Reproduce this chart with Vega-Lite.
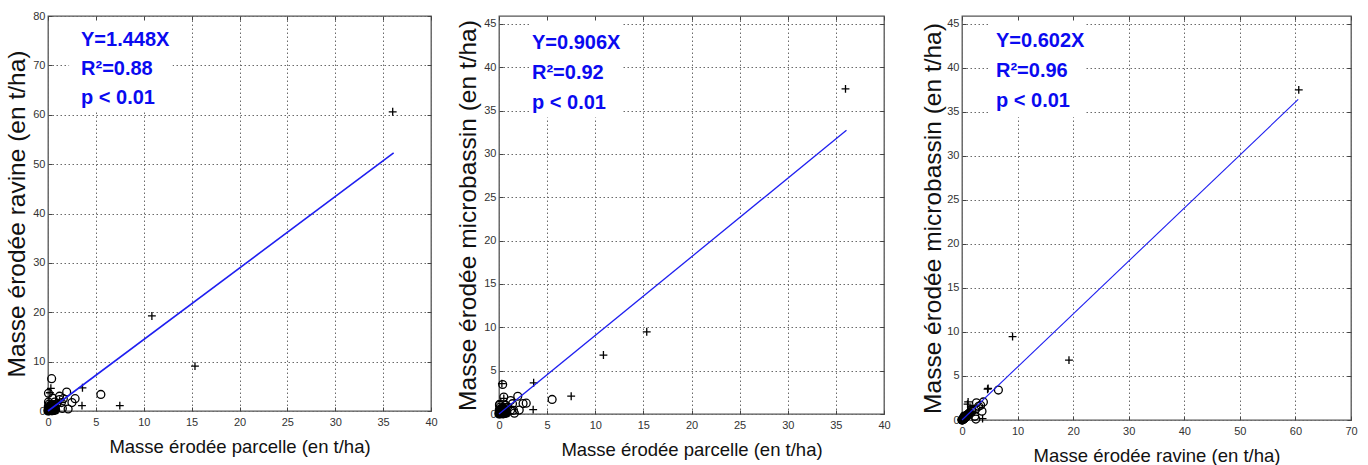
{
  "$schema": "https://vega.github.io/schema/vega-lite/v6.json",
  "padding": {"left": 4, "top": 9, "right": 5, "bottom": 5},
  "background": "white",
  "config": {
    "font": "Liberation Sans",
    "view": {"stroke": "#555", "strokeWidth": 1.3},
    "axis": {
      "domain": false,
      "tickColor": "#444",
      "tickWidth": 1,
      "labelFont": "Liberation Sans",
      "labelFontSize": 11,
      "labelColor": "#333",
      "labelFlush": false,
      "labelOverlap": false,
      "titleFont": "Liberation Sans",
      "titleFontWeight": "normal",
      "titleColor": "#111",
      "gridColor": "#6a6a6a",
      "gridDash": [1.5, 2.5],
      "gridWidth": 1,
      "gridOpacity": 1
    }
  },
  "datasets": {
    "pts": [
      {"P": 36.0, "R": 60.6, "M": 37.5, "s": "+"},
      {"P": 10.85, "R": 19.25, "M": 6.8, "s": "+"},
      {"P": 15.35, "R": 9.1, "M": 9.48, "s": "+"},
      {"P": 7.5, "R": 1.1, "M": 2.05, "s": "+"},
      {"P": 3.6, "R": 4.7, "M": 3.6, "s": "+"},
      {"P": 3.55, "R": 1.1, "M": 0.5, "s": "+"},
      {"P": 0.3, "R": 4.6, "M": 3.5, "s": "+"},
      {"P": 0.2, "R": 3.7, "M": 0.15, "s": "+"},
      {"P": 0.5, "R": 1.0, "M": 1.8, "s": "+"},
      {"P": 0.1, "R": 0.3, "M": 0.2, "s": "+"},
      {"P": 1.0, "R": 1.6, "M": 0.9, "s": "+"},
      {"P": 0.38, "R": 6.55, "M": 3.4, "s": "o"},
      {"P": 5.52, "R": 3.35, "M": 1.68, "s": "o"},
      {"P": 1.95, "R": 3.85, "M": 2.05, "s": "o"},
      {"P": 2.83, "R": 2.5, "M": 1.25, "s": "o"},
      {"P": 1.2, "R": 3.0, "M": 1.55, "s": "o"},
      {"P": 0.5, "R": 2.6, "M": 1.95, "s": "o"},
      {"P": 0.05, "R": 3.6, "M": 1.0, "s": "o"},
      {"P": 2.5, "R": 1.7, "M": 1.2, "s": "o"},
      {"P": 1.4, "R": 1.7, "M": 1.19, "s": "o"},
      {"P": 1.5, "R": 0.5, "M": 0.42, "s": "o"},
      {"P": 2.1, "R": 0.4, "M": 0.45, "s": "o"},
      {"P": 1.2, "R": 2.3, "M": 0.42, "s": "o"},
      {"P": 1.6, "R": 2.5, "M": 0.1, "s": "o"},
      {"P": 0.9, "R": 1.4, "M": 0.8, "s": "o"},
      {"P": 0.7, "R": 1.8, "M": 1.0, "s": "o"},
      {"P": 0.0, "R": 0.0, "M": 0.0, "s": "o"},
      {"P": 0.05, "R": 0.05, "M": 0.03, "s": "o"},
      {"P": 0.1, "R": 0.15, "M": 0.1, "s": "o"},
      {"P": 0.15, "R": 0.3, "M": 0.15, "s": "o"},
      {"P": 0.2, "R": 0.1, "M": 0.08, "s": "o"},
      {"P": 0.25, "R": 0.45, "M": 0.25, "s": "o"},
      {"P": 0.3, "R": 0.2, "M": 0.12, "s": "o"},
      {"P": 0.35, "R": 0.6, "M": 0.35, "s": "o"},
      {"P": 0.4, "R": 0.3, "M": 0.2, "s": "o"},
      {"P": 0.45, "R": 0.8, "M": 0.45, "s": "o"},
      {"P": 0.5, "R": 0.15, "M": 0.1, "s": "o"},
      {"P": 0.55, "R": 0.5, "M": 0.3, "s": "o"},
      {"P": 0.6, "R": 0.9, "M": 0.5, "s": "o"},
      {"P": 0.1, "R": 0.6, "M": 0.35, "s": "o"},
      {"P": 0.2, "R": 0.9, "M": 0.55, "s": "o"},
      {"P": 0.3, "R": 1.2, "M": 0.7, "s": "o"},
      {"P": 0.4, "R": 1.0, "M": 0.6, "s": "o"},
      {"P": 0.05, "R": 0.4, "M": 0.25, "s": "o"},
      {"P": 0.15, "R": 0.75, "M": 0.4, "s": "o"},
      {"P": 0.25, "R": 0.1, "M": 0.05, "s": "o"},
      {"P": 0.35, "R": 0.05, "M": 0.03, "s": "o"},
      {"P": 0.5, "R": 1.1, "M": 0.65, "s": "o"},
      {"P": 0.65, "R": 0.35, "M": 0.2, "s": "o"},
      {"P": 0.75, "R": 0.6, "M": 0.35, "s": "o"},
      {"P": 0.8, "R": 0.2, "M": 0.12, "s": "o"},
      {"P": 0.12, "R": 1.4, "M": 0.8, "s": "o"},
      {"P": 0.05, "R": 1.8, "M": 1.1, "s": "o"},
      {"P": 0.6, "R": 1.3, "M": 0.75, "s": "o"},
      {"P": 0.02, "R": 0.22, "M": 0.12, "s": "o"},
      {"P": 0.08, "R": 0.35, "M": 0.2, "s": "o"},
      {"P": 0.12, "R": 0.05, "M": 0.04, "s": "o"},
      {"P": 0.18, "R": 0.5, "M": 0.28, "s": "o"},
      {"P": 0.22, "R": 0.25, "M": 0.16, "s": "o"},
      {"P": 0.28, "R": 0.65, "M": 0.38, "s": "o"},
      {"P": 0.32, "R": 0.38, "M": 0.22, "s": "o"},
      {"P": 0.38, "R": 0.12, "M": 0.07, "s": "o"},
      {"P": 0.42, "R": 0.55, "M": 0.32, "s": "o"},
      {"P": 0.48, "R": 0.35, "M": 0.2, "s": "o"},
      {"P": 0.55, "R": 0.7, "M": 0.42, "s": "o"},
      {"P": 0.62, "R": 0.1, "M": 0.06, "s": "o"},
      {"P": 0.7, "R": 0.25, "M": 0.15, "s": "o"},
      {"P": 0.03, "R": 0.9, "M": 0.5, "s": "o"},
      {"P": 0.26, "R": 0.85, "M": 0.5, "s": "o"},
      {"P": 0.45, "R": 0.05, "M": 0.02, "s": "o"},
      {"P": 0.06, "R": 0.12, "M": 0.07, "s": "o"},
      {"P": 0.14, "R": 0.2, "M": 0.12, "s": "o"},
      {"P": 0.2, "R": 0.4, "M": 0.22, "s": "o"},
      {"P": 0.27, "R": 0.3, "M": 0.18, "s": "o"},
      {"P": 0.33, "R": 0.15, "M": 0.09, "s": "o"},
      {"P": 0.4, "R": 0.45, "M": 0.26, "s": "o"},
      {"P": 0.47, "R": 0.6, "M": 0.36, "s": "o"},
      {"P": 0.52, "R": 0.25, "M": 0.15, "s": "o"},
      {"P": 0.58, "R": 0.4, "M": 0.24, "s": "o"},
      {"P": 0.1, "R": 0.45, "M": 0.27, "s": "o"},
      {"P": 0.17, "R": 0.6, "M": 0.34, "s": "o"},
      {"P": 0.36, "R": 0.75, "M": 0.44, "s": "o"}
    ],
    "fit1": [{"x": 0, "y": 0}, {"x": 36.1, "y": 52.27}],
    "fit2": [{"x": 0, "y": 0}, {"x": 36.1, "y": 32.71}],
    "fit3": [{"x": 0, "y": 0}, {"x": 60.5, "y": 36.42}],
    "one": [{}]
  },
  "hconcat": [
    {
      "width": 383,
      "height": 395,
      "layer": [
        {
          "data": {"name": "one"},
          "mark": {"type": "rect", "fill": "white"},
          "encoding": {
            "x": {"datum": 2.2, "type": "quantitative", "axis": null},
            "x2": {"datum": 13},
            "y": {"datum": 60.6, "type": "quantitative", "axis": null},
            "y2": {"datum": 79.6}
          }
        },
        {
          "data": {"name": "pts"},
          "mark": {"type": "point", "filled": false, "stroke": "#000", "strokeWidth": 1.3, "size": 62, "opacity": 1},
          "encoding": {
            "x": {"field": "P", "type": "quantitative", "scale": {"domain": [0, 40], "nice": false},
              "axis": {"orient": "bottom", "values": [0, 5, 10, 15, 20, 25, 30, 35, 40], "grid": true, "tickSize": -4, "labelPadding": 9, "title": "Masse érodée parcelle (en t/ha)", "titleFontSize": 18.5, "titlePadding": 10}},
            "y": {"field": "R", "type": "quantitative", "scale": {"domain": [0, 80], "nice": false},
              "axis": {"orient": "left", "values": [0, 10, 20, 30, 40, 50, 60, 70, 80], "grid": true, "tickSize": -4, "labelPadding": 7, "title": "Masse érodée ravine (en t/ha)", "titleFontSize": 24.5, "titlePadding": 3}},
            "shape": {"field": "s", "type": "nominal", "scale": {"domain": ["o", "+"], "range": ["circle", "M-1,0L1,0M0,-1L0,1"]}, "legend": null}
          }
        },
        {
          "data": {"name": "fit1"},
          "mark": {"type": "line", "color": "#1f1ff0", "strokeWidth": 1.6},
          "encoding": {
            "x": {"field": "x", "type": "quantitative", "axis": {"orient": "top", "values": [0, 5, 10, 15, 20, 25, 30, 35, 40], "labels": false, "grid": false, "tickSize": -4, "title": null, "zindex": 1}},
            "y": {"field": "y", "type": "quantitative", "axis": {"orient": "right", "values": [0, 10, 20, 30, 40, 50, 60, 70, 80], "labels": false, "grid": false, "tickSize": -4, "title": null, "zindex": 1}}
          }
        },
        {
          "data": {"name": "one"},
          "mark": {"type": "text", "align": "left", "baseline": "alphabetic", "font": "Liberation Sans", "fontSize": 20, "fontWeight": "bold", "color": "#0a0af0", "lineHeight": 29, "text": ["Y=1.448X", "R²=0.88", "p < 0.01"]},
          "encoding": {
            "x": {"datum": 3.45, "type": "quantitative", "axis": null},
            "y": {"datum": 73.9, "type": "quantitative", "axis": null}
          }
        }
      ],
      "resolve": {"axis": {"x": "independent", "y": "independent"}}
    },
    {
      "hconcat": [
        {
          "width": 385,
          "height": 398,
          "layer": [
            {
              "data": {"name": "one"},
              "mark": {"type": "rect", "fill": "white"},
              "encoding": {
                "x": {"datum": 3.3, "type": "quantitative", "axis": null},
                "x2": {"datum": 12.8},
                "y": {"datum": 34.2, "type": "quantitative", "axis": null},
                "y2": {"datum": 45.6}
              }
            },
            {
              "data": {"name": "pts"},
              "mark": {"type": "point", "filled": false, "stroke": "#000", "strokeWidth": 1.3, "size": 62, "opacity": 1},
              "encoding": {
                "x": {"field": "P", "type": "quantitative", "scale": {"domain": [0, 40], "nice": false},
                  "axis": {"orient": "bottom", "values": [0, 5, 10, 15, 20, 25, 30, 35, 40], "grid": true, "tickSize": -4, "labelPadding": 9, "title": "Masse érodée parcelle (en t/ha)", "titleFontSize": 18.5, "titlePadding": 10}},
                "y": {"field": "M", "type": "quantitative", "scale": {"domain": [0, 45.9], "nice": false},
                  "axis": {"orient": "left", "values": [0, 5, 10, 15, 20, 25, 30, 35, 40, 45], "grid": true, "tickSize": -4, "labelPadding": 7, "title": "Masse érodée microbassin (en t/ha)", "titleFontSize": 24.5, "titlePadding": 3}},
                "shape": {"field": "s", "type": "nominal", "scale": {"domain": ["o", "+"], "range": ["circle", "M-1,0L1,0M0,-1L0,1"]}, "legend": null}
              }
            },
            {
              "data": {"name": "fit2"},
              "mark": {"type": "line", "color": "#1f1ff0", "strokeWidth": 1.3},
              "encoding": {
                "x": {"field": "x", "type": "quantitative", "axis": {"orient": "top", "values": [0, 5, 10, 15, 20, 25, 30, 35, 40], "labels": false, "grid": false, "tickSize": -4, "title": null, "zindex": 1}},
                "y": {"field": "y", "type": "quantitative", "axis": {"orient": "right", "values": [0, 5, 10, 15, 20, 25, 30, 35, 40, 45], "labels": false, "grid": false, "tickSize": -4, "title": null, "zindex": 1}}
              }
            },
            {
              "data": {"name": "one"},
              "mark": {"type": "text", "align": "left", "baseline": "alphabetic", "font": "Liberation Sans", "fontSize": 20, "fontWeight": "bold", "color": "#0a0af0", "lineHeight": 30, "text": ["Y=0.906X", "R²=0.92", "p < 0.01"]},
              "encoding": {
                "x": {"datum": 3.43, "type": "quantitative", "axis": null},
                "y": {"datum": 42.1, "type": "quantitative", "axis": null}
              }
            }
          ],
          "resolve": {"axis": {"x": "independent", "y": "independent"}}
        },
        {
          "width": 389,
          "height": 404,
          "layer": [
            {
              "data": {"name": "one"},
              "mark": {"type": "rect", "fill": "white"},
              "encoding": {
                "x": {"datum": 4.9, "type": "quantitative", "axis": null},
                "x2": {"datum": 22},
                "y": {"datum": 34.4, "type": "quantitative", "axis": null},
                "y2": {"datum": 45.6}
              }
            },
            {
              "data": {"name": "pts"},
              "mark": {"type": "point", "filled": false, "stroke": "#000", "strokeWidth": 1.3, "size": 62, "opacity": 1},
              "encoding": {
                "x": {"field": "R", "type": "quantitative", "scale": {"domain": [0, 70], "nice": false},
                  "axis": {"orient": "bottom", "values": [0, 10, 20, 30, 40, 50, 60, 70], "grid": true, "tickSize": -4, "labelPadding": 9, "title": "Masse érodée ravine (en t/ha)", "titleFontSize": 18.5, "titlePadding": 10}},
                "y": {"field": "M", "type": "quantitative", "scale": {"domain": [0, 45.9], "nice": false},
                  "axis": {"orient": "left", "values": [0, 5, 10, 15, 20, 25, 30, 35, 40, 45], "grid": true, "tickSize": -4, "labelPadding": 7, "title": "Masse érodée microbassin (en t/ha)", "titleFontSize": 24.5, "titlePadding": 1}},
                "shape": {"field": "s", "type": "nominal", "scale": {"domain": ["o", "+"], "range": ["circle", "M-1,0L1,0M0,-1L0,1"]}, "legend": null}
              }
            },
            {
              "data": {"name": "fit3"},
              "mark": {"type": "line", "color": "#1f1ff0", "strokeWidth": 1.1},
              "encoding": {
                "x": {"field": "x", "type": "quantitative", "axis": {"orient": "top", "values": [0, 10, 20, 30, 40, 50, 60, 70], "labels": false, "grid": false, "tickSize": -4, "title": null, "zindex": 1}},
                "y": {"field": "y", "type": "quantitative", "axis": {"orient": "right", "values": [0, 5, 10, 15, 20, 25, 30, 35, 40, 45], "labels": false, "grid": false, "tickSize": -4, "title": null, "zindex": 1}}
              }
            },
            {
              "data": {"name": "one"},
              "mark": {"type": "text", "align": "left", "baseline": "alphabetic", "font": "Liberation Sans", "fontSize": 20, "fontWeight": "bold", "color": "#0a0af0", "lineHeight": 30, "text": ["Y=0.602X", "R²=0.96", "p < 0.01"]},
              "encoding": {
                "x": {"datum": 6.12, "type": "quantitative", "axis": null},
                "y": {"datum": 42.4, "type": "quantitative", "axis": null}
              }
            }
          ],
          "resolve": {"axis": {"x": "independent", "y": "independent"}}
        }
      ],
      "spacing": 78,
      "bounds": "flush"
    }
  ],
  "spacing": 68,
  "bounds": "flush"
}
